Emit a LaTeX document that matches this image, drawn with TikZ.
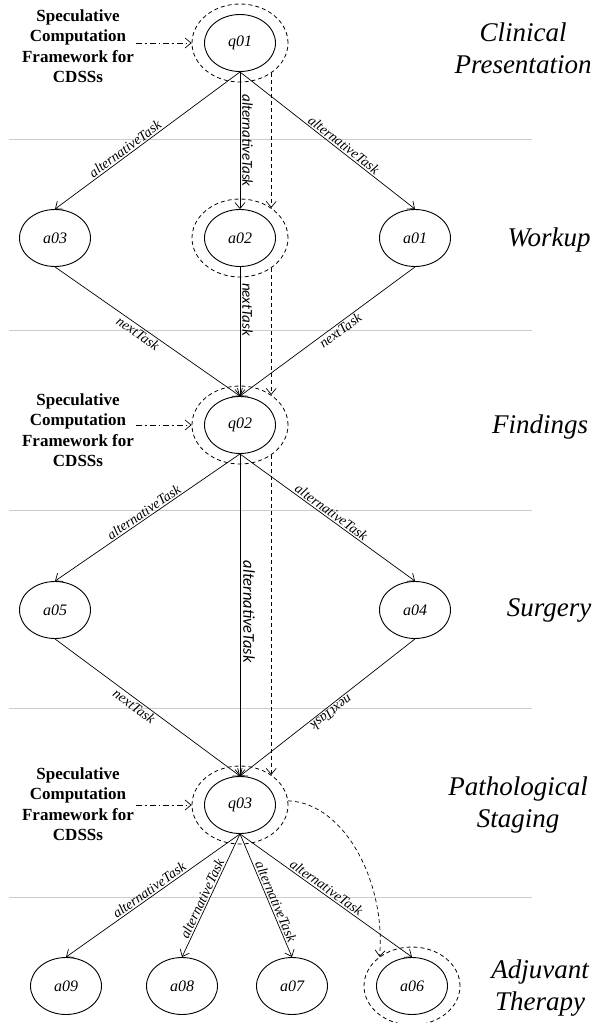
\documentclass[tikz,border=0pt]{standalone}
\usepackage{fontspec}
\setmainfont{Liberation Serif}
\newfontfamily\calib{Carlito}
\usetikzlibrary{arrows.meta,shapes.geometric}
\begin{document}
\begin{tikzpicture}[x=1pt,y=-1pt,
  inner/.style={ellipse, draw, line width=0.9pt, minimum width=71pt, minimum height=57pt, inner sep=0pt, font=\fontsize{16}{18}\selectfont\itshape},
  outer/.style={ellipse, draw, line width=0.8pt, dash pattern=on 4pt off 3pt, minimum width=96pt, minimum height=78pt, inner sep=0pt},
  edge/.style={-{Straight Barb[length=6pt,width=10pt]}, line width=0.7pt},
  dedge/.style={-{Straight Barb[length=6pt,width=10pt]}, line width=0.7pt, dash pattern=on 4pt off 3pt},
  ddedge/.style={-{Straight Barb[length=6pt,width=10pt]}, line width=0.7pt, dash pattern=on 6pt off 3pt on 1.5pt off 3pt},
  lab/.style={font=\fontsize{14}{16}\selectfont\itshape, inner sep=1.5pt},
  vlab/.style={font=\fontsize{15}{17}\selectfont\calib\itshape, inner sep=2pt},
  vlabb/.style={font=\fontsize{16.5}{18}\selectfont\calib\itshape, inner sep=3pt},
  spec/.style={align=center, font=\fontsize{17}{20.5}\selectfont\bfseries, inner sep=2pt},
  stage/.style={align=center, font=\fontsize{27}{32}\selectfont\itshape, inner sep=0pt},
  gridline/.style={draw=black!20, line width=0.8pt}
]
\useasboundingbox (0,0) rectangle (592,1023);

% lane separators
\draw[gridline] (9,139) -- (532,139);
\draw[gridline] (9,330) -- (532,330);
\draw[gridline] (9,510) -- (532,510);
\draw[gridline] (9,708) -- (532,708);
\draw[gridline] (9,897) -- (532,897);

% outer dashed ellipses
\node[outer] (q01o) at (240,43) {};
\node[outer] (a02o) at (240,238) {};
\node[outer] (q02o) at (240,425) {};
\node[outer] (q03o) at (240,805) {};
\node[outer] (a06o) at (412,986) {};

% task nodes
\node[inner] (q01) at (240,43) {q01};
\node[inner] (a03) at (55,238) {a03};
\node[inner] (a02) at (240,238) {a02};
\node[inner] (a01) at (415,238) {a01};
\node[inner] (q02) at (240,425) {q02};
\node[inner] (a05) at (55,610) {a05};
\node[inner] (a04) at (415,610) {a04};
\node[inner] (q03) at (240,805) {q03};
\node[inner] (a09) at (66,986) {a09};
\node[inner] (a08) at (182,986) {a08};
\node[inner] (a07) at (292,986) {a07};
\node[inner] (a06) at (412,986) {a06};

% stage labels
\node[stage] (st1) at (523,48) {Clinical\\Presentation};
\node[stage] (st2) at (549,240) {Workup};
\node[stage] (st3) at (540,427) {Findings};
\node[stage] (st4) at (549,610) {Surgery};
\node[stage] (st5) at (518,805) {Pathological\\Staging};
\node[stage] (st6) at (540,988) {Adjuvant\\Therapy};

% speculative framework labels
\node[spec] (s1) at (78,46) {Speculative\\Computation\\Framework for\\CDSSs};
\node[spec] (s2) at (78,430) {Speculative\\Computation\\Framework for\\CDSSs};
\node[spec] (s3) at (78,804) {Speculative\\Computation\\Framework for\\CDSSs};
\draw[ddedge] (s1.east |- q01o) -- (q01o.west);
\draw[ddedge] (s2.east |- q02o) -- (q02o.west);
\draw[ddedge] (s3.east |- q03o) -- (q03o.west);

% edges
\draw[edge] (q01.south) -- node[lab,sloped,above,pos=0.6]{alternativeTask} (a03.north);
\draw[edge] (q01.south) -- node[vlab,rotate=-90,anchor=south,pos=0.5]{alternativeTask} (a02.north);
\draw[edge] (q01.south) -- node[lab,sloped,above,pos=0.57]{alternativeTask} (a01.north);
\draw[edge] (a03.south) -- node[lab,sloped,below,pos=0.47]{nextTask} (q02.north);
\draw[edge] (a02.south) -- node[vlab,rotate=-90,anchor=south,pos=0.33]{nextTask} (q02.north);
\draw[edge] (a01.south) -- node[lab,sloped,below,pos=0.45]{nextTask} (q02.north);
\draw[edge] (q02.south) -- node[lab,sloped,above,pos=0.5]{alternativeTask} (a05.north);
\draw[edge] (q02.south) -- node[vlabb,rotate=-90,anchor=south,pos=0.49]{alternativeTask} (q03.north);
\draw[edge] (q02.south) -- node[lab,sloped,above,pos=0.5]{alternativeTask} (a04.north);
\draw[edge] (a05.south) -- node[lab,sloped,below,pos=0.45]{nextTask} (q03.north);
\draw[edge] (a04.south) -- node[lab,sloped,allow upside down,above,pos=0.5]{nextTask} (q03.north);
\draw[edge] (q03.south) -- node[lab,sloped,above,pos=0.5]{alternativeTask} (a09.north);
\draw[edge] (q03.south) -- node[lab,sloped,above,pos=0.55]{alternativeTask} (a08.north);
\draw[edge] (q03.south) -- node[lab,sloped,above,pos=0.57]{alternativeTask} (a07.north);
\draw[edge] (q03.south) -- node[lab,sloped,above,pos=0.48]{alternativeTask} (a06.north);

% speculative dashed path
\draw[dedge] (q01o.-44) -- (a02o.44);
\draw[dedge] (a02o.-44) -- (q02o.44);
\draw[dedge] (q02o.-44) -- (q03o.44);
\coordinate (c1) at (345,803);
\coordinate (c2) at (386,883);
\draw[dedge] (q03o.5) .. controls (c1) and (c2) .. (a06o.138);
\end{tikzpicture}
\end{document}
